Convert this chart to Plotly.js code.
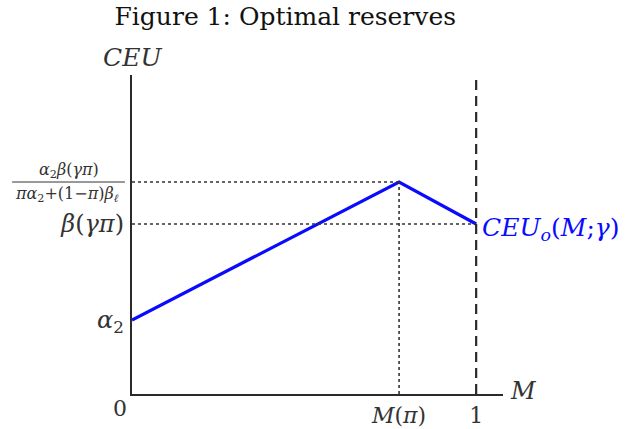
<!DOCTYPE html>
<html>
<head>
<meta charset="utf-8">
<script src="https://cdn.plot.ly/plotly-3.0.1.min.js"></script>
<style>html,body{margin:0;padding:0;background:#fff;}</style>
</head>
<body>
<div id="chart" style="width:627px;height:429px;"></div>
<script>
// Data
const curveX = [0, 0.776, 1];
const curveY = [0.74, 2.12, 1.70];
const xTickVals = [0.776, 1];
const xTickText = ['<i>M</i>(<i>π</i>)', '1'];
const yTickVals = [0.74, 1.70];
const yTickText = ['<i>α</i><sub>2</sub>', '<i>β</i>(<i>γπ</i>)'];
const fracNum = '<i>α</i><sub>2</sub><i>β</i>(<i>γπ</i>)';
const fracDen = '<i>πα</i><sub>2</sub>+(1−<i>π</i>)<i>β</i><sub><i>ℓ</i></sub>';
const curveLabel = '<i>CEU</i><sub><i>o</i></sub>(<i>M</i>;<i>γ</i>)';
const xMax = 1.078, yMax = 3.19;

const serif = 'DejaVu Serif, Liberation Serif, serif';
const mPi = curveX[1], peak = curveY[1], betaV = curveY[2], xOne = curveX[2];

const trace = {
  x: curveX, y: curveY, mode: 'lines', type: 'scatter',
  line: {color: '#0a0aff', width: 3.2}, showlegend: false, hoverinfo: 'skip'
};

const dotted = {color: '#333', width: 1.6, dash: 'dot'};
const layout = {
  width: 627, height: 429,
  margin: {l: 132, r: 124, t: 75, b: 35, pad: 0},
  paper_bgcolor: '#fff', plot_bgcolor: '#fff',
  showlegend: false,
  title: {text: 'Figure 1: Optimal reserves', font: {family: serif, size: 25, color: '#111'},
          x: 0.455, xanchor: 'center', y: 0.962, yanchor: 'middle'},
  xaxis: {range: [0, xMax], showgrid: false, zeroline: false, showline: true,
          linecolor: '#2a2a2a', linewidth: 2.2, ticks: '', tickvals: xTickVals, ticktext: xTickText,
          tickfont: {family: serif, size: 22, color: '#333'}, ticklabelstandoff: 0, fixedrange: true},
  yaxis: {range: [0, yMax], showgrid: false, zeroline: false, showline: true,
          linecolor: '#2a2a2a', linewidth: 2.2, ticks: '', tickvals: yTickVals, ticktext: yTickText,
          tickfont: {family: serif, size: 24, color: '#333'}, ticklabelstandoff: 1, fixedrange: true},
  shapes: [
    {type: 'line', xref: 'x', yref: 'y', x0: 0, x1: mPi, y0: peak, y1: peak, line: dotted},
    {type: 'line', xref: 'x', yref: 'y', x0: 0, x1: xOne, y0: betaV, y1: betaV, line: dotted},
    {type: 'line', xref: 'x', yref: 'y', x0: mPi, x1: mPi, y0: 0, y1: peak, line: dotted},
    {type: 'line', xref: 'x', yref: 'paper', x0: xOne, x1: xOne, y0: 0, y1: 1,
     line: {color: '#2a2a2a', width: 2.2, dash: '10px,6px'}},
    {type: 'line', xref: 'paper', yref: 'y', x0: -0.323, x1: -0.019, y0: peak, y1: peak,
     line: {color: '#333', width: 1}}
  ],
  annotations: [
    {xref: 'paper', yref: 'y', x: -0.171, y: peak, text: fracNum, showarrow: false,
     xanchor: 'center', yanchor: 'bottom', yshift: -1, font: {family: serif, size: 16, color: '#333'}},
    {xref: 'paper', yref: 'y', x: -0.175, y: peak, text: fracDen, showarrow: false,
     xanchor: 'center', yanchor: 'top', yshift: 0, font: {family: serif, size: 16, color: '#333'}},
    {xref: 'x', yref: 'y', x: 0, y: 0, text: '0', showarrow: false,
     xanchor: 'right', yanchor: 'top', xshift: -3, yshift: 0, font: {family: serif, size: 22, color: '#333'}},
    {xref: 'paper', yref: 'paper', x: 0, y: 1, text: '<i>CEU</i>', showarrow: false,
     xanchor: 'left', yanchor: 'bottom', xshift: -31, yshift: 1, font: {family: serif, size: 25, color: '#333'}},
    {xref: 'paper', yref: 'y', x: 1, y: 0, text: '<i>M</i>', showarrow: false,
     xanchor: 'left', yanchor: 'middle', xshift: 5, yshift: 3, font: {family: serif, size: 24, color: '#333'}},
    {xref: 'x', yref: 'y', x: xOne, y: betaV, text: curveLabel, showarrow: false,
     xanchor: 'left', yanchor: 'middle', xshift: 4, yshift: -5, font: {family: serif, size: 25, color: '#0a0aff'}}
  ]
};

Plotly.newPlot('chart', [trace], layout, {displayModeBar: false, staticPlot: true});
</script>
</body>
</html>
